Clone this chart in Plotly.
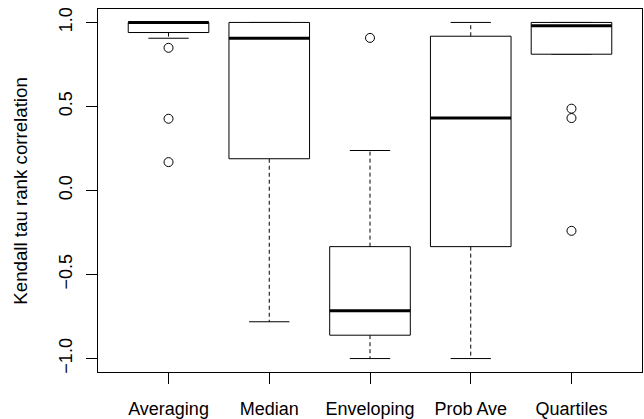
import plotly.graph_objects as go

categories = ["Averaging", "Median", "Enveloping", "Prob Ave", "Quartiles"]
lower_whisker = [0.906, -0.781, -1.0, -1.0, 0.811]
q1 = [0.940, 0.189, -0.861, -0.334, 0.811]
median = [1.0, 0.906, -0.716, 0.431, 0.980]
q3 = [1.0, 1.0, -0.334, 0.918, 1.0]
upper_whisker = [1.0, 1.0, 0.238, 1.0, 1.0]
outliers = {
    "Averaging": [0.849, 0.427, 0.169],
    "Median": [],
    "Enveloping": [0.908],
    "Prob Ave": [],
    "Quartiles": [0.487, 0.431, -0.240],
}
y_ticks = [-1.0, -0.5, 0.0, 0.5, 1.0]
y_title = "Kendall tau rank correlation"

box_half = 0.4
staple_half = 0.2
fig = go.Figure()

for i, cat in enumerate(categories):
    x = i + 1
    # dashed whiskers
    fig.add_trace(go.Scatter(x=[x, x, None, x, x],
                             y=[q3[i], upper_whisker[i], None, q1[i], lower_whisker[i]],
                             mode="lines", line=dict(color="black", width=1, dash="4px,3px"),
                             hoverinfo="skip", showlegend=False))
    # staples
    fig.add_trace(go.Scatter(x=[x - staple_half, x + staple_half, None, x - staple_half, x + staple_half],
                             y=[upper_whisker[i], upper_whisker[i], None, lower_whisker[i], lower_whisker[i]],
                             mode="lines", line=dict(color="black", width=1),
                             hoverinfo="skip", showlegend=False))
    # box
    fig.add_trace(go.Scatter(x=[x - box_half, x + box_half, x + box_half, x - box_half, x - box_half],
                             y=[q1[i], q1[i], q3[i], q3[i], q1[i]],
                             mode="lines", fill="toself", fillcolor="white",
                             line=dict(color="black", width=1),
                             hoverinfo="skip", showlegend=False))
    # median
    fig.add_trace(go.Scatter(x=[x - box_half, x + box_half], y=[median[i], median[i]],
                             mode="lines", line=dict(color="black", width=3),
                             hoverinfo="skip", showlegend=False))
    # outliers
    if outliers[cat]:
        fig.add_trace(go.Scatter(x=[x] * len(outliers[cat]), y=outliers[cat], mode="markers",
                                 marker=dict(symbol="circle-open", size=9,
                                             line=dict(color="black", width=1), color="black"),
                                 hoverinfo="skip", showlegend=False))

font = dict(family="Liberation Sans, Arial, sans-serif", size=18, color="black")
title_font = dict(family="Liberation Sans, Arial, sans-serif", size=18.7, color="black")
fig.update_layout(
    width=644, height=419,
    margin=dict(l=98, r=2, t=9, b=47, autoexpand=False),
    paper_bgcolor="white", plot_bgcolor="white",
    font=font,
    showlegend=False,
    xaxis=dict(range=[0.3, 5.7], tickvals=list(range(1, len(categories) + 1)), ticktext=categories,
               ticks="outside", ticklen=11, tickcolor="black", tickwidth=1,
               showline=True, mirror=True, linecolor="black", linewidth=1,
               showgrid=False, zeroline=False, tickfont=font, ticklabelstandoff=9,
               automargin=False),
    yaxis=dict(range=[-1.08, 1.08], tickvals=y_ticks, tickformat=".1f",
               ticks="outside", ticklen=11, tickcolor="black", tickwidth=1,
               showline=True, mirror=True, linecolor="black", linewidth=1,
               showgrid=False, zeroline=False, tickangle=-90, tickfont=font,
               automargin=False, ticklabelstandoff=7),
    annotations=[dict(text=y_title, xref="paper", yref="paper", x=-0.143, y=0.5,
                      xanchor="center", yanchor="middle", textangle=-90,
                      showarrow=False, font=title_font)],
)
fig.write_html("out.html", config={"displayModeBar": False},
               post_script="document.body.style.margin='0';document.body.style.padding='0';")
